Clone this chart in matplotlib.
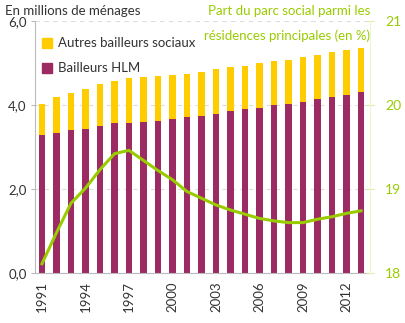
import matplotlib
matplotlib.use('Agg')
import matplotlib.pyplot as plt
from matplotlib.patches import Rectangle

plt.rcParams['font.family'] = ['Lato', 'DejaVu Sans']

# Data
years = list(range(1991, 2014))
hlm = [3.29, 3.34, 3.40, 3.43, 3.49, 3.56, 3.58, 3.60, 3.63, 3.67, 3.71, 3.74,
       3.79, 3.86, 3.91, 3.94, 4.00, 4.02, 4.08, 4.14, 4.20, 4.25, 4.32]
total = [4.02, 4.19, 4.29, 4.38, 4.50, 4.57, 4.64, 4.67, 4.69, 4.71, 4.74, 4.79,
         4.85, 4.90, 4.93, 5.00, 5.05, 5.07, 5.14, 5.19, 5.26, 5.31, 5.36]
autres = [t - h for t, h in zip(total, hlm)]
part = [18.11, 18.48, 18.83, 19.01, 19.23, 19.42, 19.46, 19.34, 19.22, 19.11,
        18.97, 18.89, 18.81, 18.75, 18.70, 18.65, 18.62, 18.60, 18.60, 18.64,
        18.67, 18.71, 18.74]
xticks = [1991, 1994, 1997, 2000, 2003, 2006, 2009, 2012]
yticks = [0, 2, 4, 6]
yticks_r = [18, 19, 20, 21]

purple = '#9c2a63'
yellow = '#ffcc00'
green = '#99cc00'
grey = '#333333'

fig = plt.figure(figsize=(4.06, 3.23), dpi=100)
ax = fig.add_axes([35/406, 1 - 273/323, 335/406, 252/323])

ax.bar(years, hlm, width=0.42, color=purple, zorder=2)
ax.bar(years, autres, bottom=hlm, width=0.42, color=yellow, zorder=2)
ax.set_xlim(1990.52, 2013.62)
ax.set_ylim(0, 6)
ax.set_yticks(yticks)
ax.set_yticklabels([('%.1f' % v).replace('.', ',') for v in yticks], fontsize=9.5, color=grey)
ax.set_xticks(xticks)
ax.set_xticklabels([str(y) for y in xticks], rotation=90, fontsize=9.5, color=grey)
ax.tick_params(axis='x', length=0, pad=6)
ax.tick_params(axis='y', length=3, color='#bbbbbb', pad=3)
ax.grid(axis='y', color='#dddddd', linestyle=(0, (4, 4)), linewidth=0.8, zorder=0)
for s in ['top', 'right']:
    ax.spines[s].set_visible(False)
ax.spines['left'].set_color('#bbbbbb')
ax.spines['bottom'].set_color('#bbbbbb')

ax2 = ax.twinx()
ax2.plot(years, part, color=green, linewidth=2.2, zorder=3)
ax2.set_ylim(18, 21)
ax2.set_yticks(yticks_r)
ax2.set_yticklabels([str(v) for v in yticks_r], fontsize=10, color=green)
ax2.tick_params(axis='y', length=6, direction='inout', color='#ddeeaa', pad=8)
for s in ['top', 'left', 'bottom']:
    ax2.spines[s].set_visible(False)
ax2.spines['right'].set_color('#eef5cc')

# Titles
fig.text(5/406, 1 - 11/323, 'En millions de ménages', fontsize=9.5, color=grey, va='center')
fig.text(370/406, 1 - 11/323, 'Part du parc social parmi les', fontsize=9.5,
         color=green, va='center', ha='right')
fig.text(370/406, 1 - 36/323, 'résidences principales (en %)', fontsize=9.5,
         color=green, va='center', ha='right')

# Legend
fig.patches.append(Rectangle((42/406, 1 - 48/323), 10/406, 10/323,
                             transform=fig.transFigure, color=yellow))
fig.text(58/406, 1 - 43/323, 'Autres bailleurs sociaux', fontsize=9.5, color=grey, va='center')
fig.patches.append(Rectangle((42/406, 1 - 73/323), 10/406, 10/323,
                             transform=fig.transFigure, color=purple))
fig.text(58/406, 1 - 68/323, 'Bailleurs HLM', fontsize=9.5, color=grey, va='center')

fig.savefig('out.png', dpi=100)
